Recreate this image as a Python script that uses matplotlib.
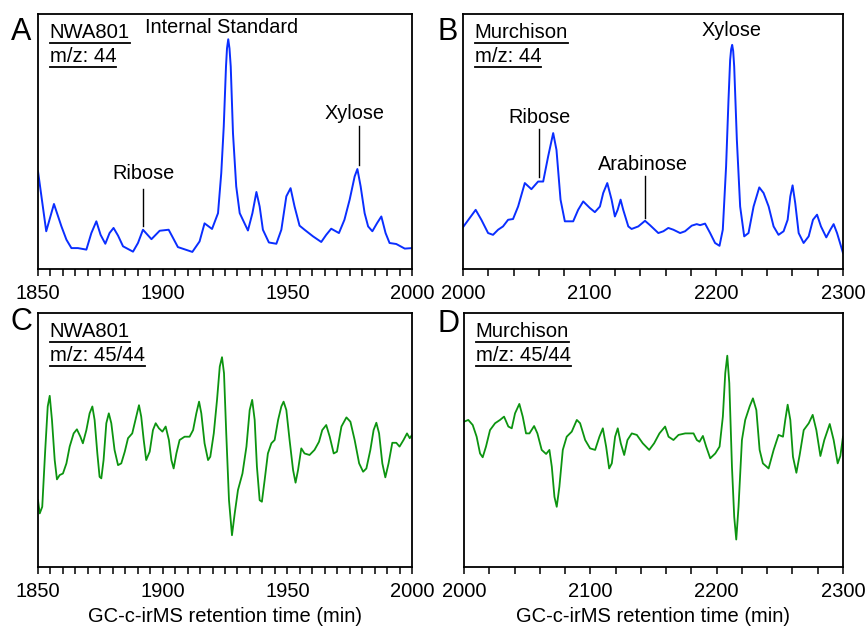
import matplotlib
matplotlib.use('Agg')
import matplotlib.pyplot as plt
from matplotlib.ticker import MultipleLocator
from matplotlib.lines import Line2D

plt.rcParams['font.family'] = ['Liberation Sans', 'DejaVu Sans']

# A: NWA801, m/z 44
nwa_t = [1850.0, 1853.3, 1856.4, 1859.4, 1861.4, 1863.4, 1866.0, 1869.4, 1871.4, 1873.4,
         1875.1, 1877.0, 1878.7, 1880.3, 1882.1, 1884.1, 1888.1, 1890.1, 1892.1, 1895.5,
         1898.8, 1902.4, 1904.2, 1906.1, 1911.9, 1914.8, 1916.8, 1919.8, 1922.2, 1923.5,
         1924.5, 1925.4, 1925.8, 1926.3, 1926.8, 1927.3, 1928.2, 1929.5, 1930.9, 1934.2,
         1936.0, 1937.6, 1938.9, 1940.2, 1942.6, 1945.6, 1947.6, 1949.6, 1951.3, 1952.9,
         1954.9, 1956.9, 1960.3, 1963.6, 1965.6, 1967.6, 1970.7, 1972.9, 1975.0, 1977.0,
         1978.1, 1979.4, 1981.0, 1982.4, 1984.1, 1986.0, 1987.7, 1989.4, 1991.0, 1993.7,
         1997.1, 2000.0]
nwa_44 = [38.3, 14.8, 25.5, 16.7, 11.5, 8.2, 8.2, 7.6, 14.1, 18.7,
          13.4, 9.9, 14.1, 16.1, 13.1, 8.9, 6.8, 10.2, 15.4, 11.7,
          15.0, 15.4, 12.1, 8.6, 6.7, 10.8, 17.9, 15.7, 21.9, 37.6,
          55.9, 79.4, 86.5, 90.1, 86.5, 79.4, 53.3, 32.4, 21.9, 15.1,
          21.9, 30.2, 24.5, 15.4, 10.4, 9.9, 15.4, 28.5, 31.7, 24.5,
          17.0, 15.4, 12.8, 10.6, 13.4, 15.8, 14.1, 19.3, 27.2, 36.3,
          39.2, 32.4, 21.9, 16.7, 14.8, 18.0, 20.6, 14.1, 10.2, 9.8,
          8.0, 8.2]

# B: Murchison, m/z 44
mur_t = [2000.0, 2005.3, 2010.0, 2014.5, 2019.8, 2023.7, 2027.7, 2031.6, 2035.6, 2039.5,
         2043.5, 2048.8, 2054.0, 2059.3, 2063.3, 2067.2, 2071.2, 2073.8, 2077.0, 2080.4,
         2087.0, 2090.9, 2094.9, 2100.2, 2104.1, 2108.1, 2110.7, 2113.9, 2117.3, 2119.9,
         2122.1, 2124.4, 2126.5, 2130.5, 2133.1, 2138.4, 2143.7, 2147.6, 2154.2, 2158.2,
         2162.1, 2166.1, 2171.4, 2175.3, 2180.6, 2184.5, 2187.2, 2191.1, 2195.1, 2199.0,
         2202.5, 2205.1, 2207.7, 2209.6, 2210.9, 2211.7, 2212.5, 2213.3, 2214.1, 2216.2,
         2218.8, 2222.0, 2225.4, 2229.4, 2233.9, 2237.3, 2241.3, 2245.2, 2249.1, 2253.1,
         2256.3, 2258.4, 2260.2, 2262.3, 2265.0, 2268.9, 2272.9, 2276.3, 2279.5, 2282.6,
         2286.8, 2290.0, 2292.6, 2295.3, 2300.0]
mur_44 = [16.4, 20.0, 23.2, 19.3, 14.1, 13.4, 15.4, 16.7, 19.3, 19.6,
          24.5, 33.7, 31.3, 34.3, 34.3, 44.1, 53.3, 46.7, 27.2, 18.7,
          18.7, 23.2, 26.5, 23.9, 22.3, 24.5, 29.8, 33.7, 27.2, 20.6,
          23.2, 27.2, 23.2, 16.7, 15.7, 16.7, 18.9, 17.2, 14.1, 14.8,
          16.1, 15.4, 14.1, 14.8, 17.0, 17.6, 17.2, 17.8, 14.1, 10.2,
          9.1, 15.4, 40.2, 66.3, 82.0, 86.2, 87.9, 85.5, 79.4, 50.7,
          24.5, 12.8, 14.1, 24.5, 32.0, 29.8, 24.5, 16.7, 13.4, 14.8,
          19.3, 28.5, 32.8, 25.8, 14.1, 10.2, 12.8, 19.3, 21.3, 16.7,
          12.4, 15.4, 17.6, 14.1, 6.3]

# C: NWA801, m/z 45/44
nwa_t2 = [1850.0, 1850.7, 1851.7, 1852.9, 1853.9, 1854.7, 1855.6, 1856.7, 1857.6, 1858.7,
          1860.0, 1861.4, 1862.7, 1864.3, 1865.6, 1867.0, 1868.0, 1869.4, 1870.7, 1871.8,
          1872.7, 1873.8, 1874.7, 1875.4, 1876.3, 1877.4, 1878.4, 1879.4, 1880.7, 1882.1,
          1883.4, 1884.8, 1886.1, 1887.8, 1889.4, 1890.5, 1891.4, 1892.4, 1893.4, 1894.8,
          1896.1, 1897.2, 1898.5, 1899.9, 1901.2, 1902.5, 1903.5, 1904.4, 1905.5, 1906.8,
          1908.8, 1910.8, 1912.2, 1913.5, 1914.6, 1915.5, 1916.8, 1918.2, 1919.1, 1920.5,
          1921.8, 1922.9, 1923.8, 1924.6, 1925.5, 1926.6, 1927.8, 1928.9, 1930.2, 1932.0,
          1933.6, 1934.9, 1935.9, 1936.9, 1937.8, 1938.9, 1939.8, 1940.9, 1942.2, 1943.6,
          1944.9, 1946.3, 1947.6, 1948.5, 1949.6, 1950.9, 1952.3, 1953.3, 1954.3, 1955.6,
          1956.9, 1958.9, 1960.9, 1962.7, 1964.0, 1965.6, 1967.0, 1968.6, 1969.9, 1971.7,
          1973.7, 1975.3, 1977.0, 1978.8, 1980.4, 1981.7, 1983.3, 1984.6, 1985.7, 1986.8,
          1988.1, 1989.3, 1990.6, 1992.1, 1993.7, 1995.0, 1996.6, 1998.0, 1999.1, 2000.0]
nwa_ratio = [26.3, 21.1, 23.7, 46.1, 63.2, 67.4, 57.9, 42.1, 34.5, 36.2,
             36.8, 40.8, 47.4, 52.6, 54.2, 51.3, 48.7, 53.9, 60.5, 63.2,
             57.9, 44.7, 35.5, 34.9, 42.1, 56.6, 60.5, 56.6, 46.1, 40.1,
             40.8, 45.4, 50.7, 52.6, 59.2, 63.7, 59.2, 50.0, 42.1, 45.4,
             53.9, 56.6, 54.6, 53.3, 55.3, 50.0, 42.1, 38.8, 44.7, 50.0,
             51.3, 51.3, 53.9, 60.5, 65.1, 60.5, 48.7, 42.1, 43.4, 52.6,
             65.8, 78.9, 82.6, 76.3, 52.6, 26.3, 12.5, 21.1, 30.3, 36.8,
             47.4, 61.8, 65.8, 57.9, 39.5, 26.3, 25.7, 34.2, 44.7, 48.7,
             50.0, 57.9, 63.2, 65.1, 61.8, 50.0, 38.2, 33.2, 38.2, 46.7,
             44.7, 44.1, 46.1, 49.3, 53.9, 55.9, 51.3, 44.7, 45.4, 55.3,
             58.9, 57.2, 50.0, 40.8, 37.5, 38.8, 46.1, 53.9, 56.8, 52.6,
             40.8, 35.3, 40.8, 48.9, 48.9, 47.4, 50.0, 52.6, 50.7, 52.0]

# D: Murchison, m/z 45/44
mur_t2 = [2000.0, 2003.4, 2006.9, 2010.0, 2012.7, 2014.8, 2017.4, 2020.6, 2024.6, 2028.5,
          2031.7, 2035.1, 2037.8, 2040.4, 2043.8, 2046.5, 2049.1, 2051.8, 2055.5, 2058.1,
          2061.5, 2065.0, 2067.6, 2069.5, 2071.6, 2073.4, 2075.5, 2078.2, 2081.3, 2085.3,
          2089.3, 2091.9, 2095.9, 2099.8, 2103.8, 2107.2, 2109.9, 2112.5, 2114.9, 2117.0,
          2119.6, 2121.7, 2124.1, 2126.8, 2129.4, 2132.8, 2136.8, 2141.5, 2146.6, 2150.5,
          2154.7, 2159.2, 2161.9, 2165.8, 2169.8, 2175.1, 2181.7, 2184.3, 2186.4, 2189.1,
          2191.7, 2194.9, 2198.9, 2202.3, 2204.9, 2206.8, 2208.4, 2210.0, 2212.1, 2213.9,
          2215.5, 2217.3, 2220.0, 2222.6, 2226.1, 2228.7, 2231.4, 2234.0, 2236.6, 2241.1,
          2245.1, 2249.0, 2252.5, 2254.3, 2256.2, 2258.3, 2260.4, 2263.1, 2265.7, 2268.9,
          2272.9, 2276.0, 2278.9, 2282.1, 2285.2, 2289.5, 2292.6, 2295.8, 2297.9, 2300.0]
mur_ratio = [57.2, 57.9, 55.9, 51.3, 44.7, 43.2, 47.4, 53.9, 56.6, 57.9,
             59.2, 55.3, 54.6, 60.5, 64.2, 59.2, 52.6, 52.6, 55.5, 52.6,
             46.1, 44.5, 46.1, 39.5, 27.6, 23.7, 31.6, 46.1, 51.3, 53.3,
             57.9, 56.6, 50.0, 46.7, 46.1, 51.3, 54.6, 47.4, 38.8, 40.8,
             51.3, 54.6, 48.7, 44.1, 50.0, 52.6, 52.0, 48.7, 46.1, 48.7,
             52.6, 55.3, 51.3, 50.0, 52.0, 52.6, 52.6, 50.0, 49.3, 51.6,
             47.4, 42.8, 44.7, 47.4, 59.2, 76.3, 83.2, 72.4, 39.5, 19.7,
             10.8, 23.7, 50.0, 57.9, 63.2, 66.4, 61.8, 46.1, 40.8, 38.8,
             46.1, 52.0, 51.3, 57.9, 63.9, 57.9, 43.4, 37.1, 44.1, 53.9,
             56.6, 59.9, 53.9, 43.7, 50.0, 56.3, 50.0, 40.8, 43.7, 51.3]

BLUE = '#0a2eff'
GREEN = '#0c9410'

fig = plt.figure(figsize=(8.65, 6.31), dpi=100)
W, H = 865, 631


def make_ax(l, t, r, b):
    return fig.add_axes([l / W, 1 - b / H, (r - l) / W, (b - t) / H])


axA = make_ax(38, 14, 412, 269)
axB = make_ax(463, 14, 843, 269)
axC = make_ax(38, 313, 412, 567)
axD = make_ax(464, 313, 843, 567)

axA.plot(nwa_t, nwa_44, color=BLUE, lw=1.4)
axB.plot(mur_t, mur_44, color=BLUE, lw=1.4)
axC.plot(nwa_t2, nwa_ratio, color=GREEN, lw=1.3)
axD.plot(mur_t2, mur_ratio, color=GREEN, lw=1.3)

for ax, lo, hi, step in [(axA, 1850, 2000, 5), (axB, 2000, 2300, 20),
                         (axC, 1850, 2000, 5), (axD, 2000, 2300, 20)]:
    ax.set_xlim(lo, hi)
    ax.set_ylim(0, 100)
    ax.set_yticks([])
    ax.xaxis.set_major_locator(MultipleLocator(50 if step == 5 else 100))
    ax.xaxis.set_minor_locator(MultipleLocator(step))
    ax.tick_params(axis='x', which='both', direction='out', length=5, width=1.1,
                   labelsize=14.5, pad=6)
    for s in ax.spines.values():
        s.set_linewidth(1.3)

axC.set_xlabel('GC-c-irMS retention time (min)', fontsize=14.5, labelpad=4)
axD.set_xlabel('GC-c-irMS retention time (min)', fontsize=14.5, labelpad=4)

# panel letters
for px, py, letter in [(11, 17, 'A'), (437, 17, 'B'), (11, 307, 'C'), (437, 309, 'D')]:
    fig.text(px / W, 1 - py / H, letter, fontsize=22, ha='left', va='top')

# peak labels
ann = dict(fontsize=14.3, ha='center', va='center')
axA.text(1923.8, 94.8, 'Internal Standard', **ann)
axA.text(1892.3, 37.3, 'Ribose', **ann)
axA.plot([1892.1, 1892.1], [17.0, 31.3], color='black', lw=1)
axA.text(1977.1, 61.1, 'Xylose', **ann)
axA.plot([1978.6, 1978.6], [40.6, 56.1], color='black', lw=1)

axB.text(2211.7, 93.7, 'Xylose', **ann)
axB.text(2060.6, 59.5, 'Ribose', **ann)
axB.plot([2060.1, 2060.1], [36.0, 54.8], color='black', lw=1)
axB.text(2142.4, 40.9, 'Arabinose', **ann)
axB.plot([2143.7, 2143.7], [20.0, 36.3], color='black', lw=1)

# underlined sample labels
labels = []
for ax, name, mz in [(axA, 'NWA801', 'm/z: 44'), (axB, 'Murchison', 'm/z: 44'),
                     (axC, 'NWA801', 'm/z: 45/44'), (axD, 'Murchison', 'm/z: 45/44')]:
    t1 = ax.text(0.031, 0.965, name, transform=ax.transAxes, fontsize=14.6,
                 ha='left', va='top')
    t2 = ax.text(0.031, 0.872, mz, transform=ax.transAxes, fontsize=14.6,
                 ha='left', va='top')
    labels += [t1, t2]

fig.canvas.draw()
r = fig.canvas.get_renderer()
for t in labels:
    bb = t.get_window_extent(renderer=r)
    y = bb.y0 - 1
    fig.add_artist(Line2D([bb.x0 / W, bb.x1 / W], [y / H, y / H],
                          transform=fig.transFigure, color='black', lw=1.3))

fig.savefig('out.png', dpi=100)
